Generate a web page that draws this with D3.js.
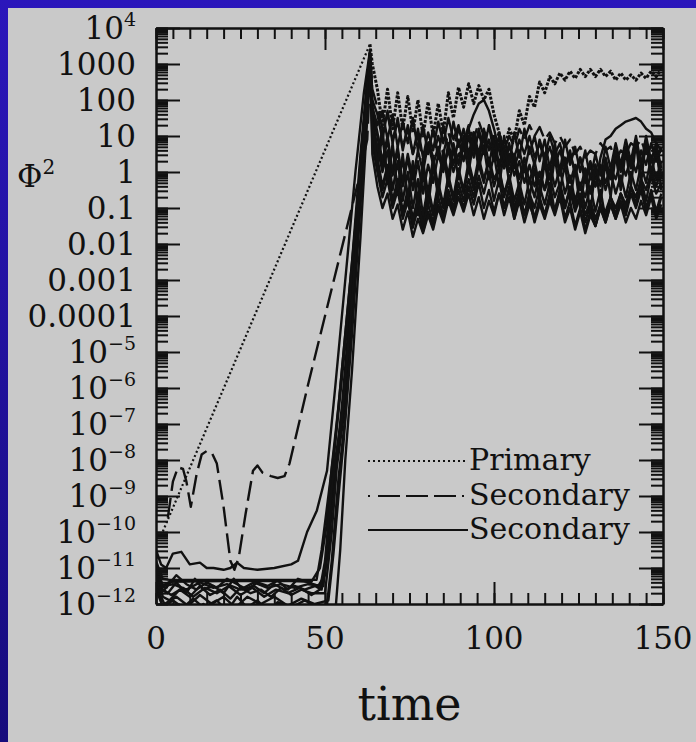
<!DOCTYPE html>
<html>
<head>
<meta charset="utf-8">
<title>Phi^2 vs time</title>
<script src="https://cdn.jsdelivr.net/npm/d3@7"></script>
<style>
  body { margin: 0; background: #1c1090; }
  svg { display: block; }
  .lbl { font-family: "DejaVu Serif", serif; fill: #111; }
  .axis path, .axis line { stroke: #111; stroke-width: 2; }
</style>
</head>
<body>
<script>
// plot window
var w = 696, h = 742;
var pLeft = 156, pRight = 663, pTop = 28, pBottom = 604;

// x axis ticks
var xMajor = [0, 50, 100, 150];
// y axis: decade exponents and their labels [base, superscript]
var yExp = [4, 3, 2, 1, 0, -1, -2, -3, -4, -5, -6, -7, -8, -9, -10, -11, -12];
var yLabels = [["10", "4"], ["1000", ""], ["100", ""], ["10", ""], ["1", ""], ["0.1", ""],
  ["0.01", ""], ["0.001", ""], ["0.0001", ""], ["10", "\u22125"], ["10", "\u22126"],
  ["10", "\u22127"], ["10", "\u22128"], ["10", "\u22129"], ["10", "\u221210"],
  ["10", "\u221211"], ["10", "\u221212"]];

// time grid after saturation
var tPost = [64, 65.5, 67, 68.5, 70, 71.5, 73, 74.5, 76, 77.5,
  79, 80.5, 82, 83.5, 85, 86.5, 88, 89.5, 91, 92.5,
  94, 95.5, 97, 98.5, 100, 101.5, 103, 104.5, 106, 107.5,
  109, 110.5, 112, 113.5, 115, 116.5, 118, 119.5, 121, 122.5,
  124, 125.5, 127, 128.5, 130, 131.5, 133, 134.5, 136, 137.5,
  139, 140.5, 142, 143.5, 145, 146.5, 148, 149.5];

// all values are log10(Phi^2)
// primary mode (dotted)
var primaryPre = [[1.5, -10.1], [63.3, 3.55]];
var primaryPost = [3.0, 2.3, 1.3, 2.3, 1.2, 2.2, 1.2, 2.1, 1.1, 2.0,
  1.0, 1.95, 1.0, 1.9, 1.1, 2.2, 1.5, 2.35, 1.8, 2.45,
  1.9, 2.4, 2.0, 2.3, 1.6, 1.1, 0.6, 1.2, 0.9, 1.7,
  1.3, 2.1, 1.8, 2.5, 2.2, 2.65, 2.45, 2.75, 2.55, 2.8,
  2.6, 2.85, 2.65, 2.85, 2.65, 2.85, 2.65, 2.8, 2.55, 2.75,
  2.55, 2.7, 2.55, 2.75, 2.6, 2.8, 2.65, 2.85];

// secondary mode (dashed)
var dashedPre = [[3.5, -9.6], [5, -8.6], [6.5, -8.2], [8, -8.25], [9, -8.6], [10.3, -9.3],
  [12, -8.4], [13.5, -7.85], [15, -7.75], [16.5, -7.8], [18, -8.1], [20, -9.3],
  [22, -10.8], [23.2, -11.05], [24.5, -10.7], [26.5, -9.5], [28.7, -8.3], [30, -8.15],
  [31.5, -8.35], [34, -8.45], [36, -8.5], [38, -8.45], [39.5, -8.1], [45, -5.9],
  [50, -4.0], [55, -2.1], [60, -0.2], [62.5, 0.9], [63.5, 3.0]];
var dashedPost = [2.3, 1.8, 1.2, 1.6, 0.9, 1.4, 0.7, 1.2, 0.5, 1.0,
  0.3, 0.9, 0.4, 1.0, 0.5, 1.1, 0.6, 1.2, 0.8, 1.3,
  0.9, 1.4, 1.0, 1.3, 0.8, 1.1, 0.6, 1.0, 0.7, 1.2,
  0.9, 1.3, 1.0, 1.25, 0.9, 1.1, 0.8, 1.0, 0.7, 0.9,
  0.5, 0.7, 0.4, 0.6, 0.5, 0.8, 0.6, 0.7, 0.3, 0.6,
  0.5, 0.8, 0.7, 0.9, 0.5, 0.8, 0.4, 0.6];

// secondary modes (solid)
var sec1Pre = [[0, -10.5], [1.5, -10.9], [3, -11.0], [5, -10.6], [7.5, -10.55], [10, -10.9],
  [13, -10.85], [15, -11.0], [17, -11.0], [20, -11.05], [22, -11.0], [24, -10.85],
  [26, -11.0], [30, -11.05], [35, -11.0], [40, -10.9], [42, -10.8], [44.7, -10.0],
  [47.6, -9.4], [50.6, -8.3], [53, -6.0], [56, -3.0], [59, 0.0], [61.5, 2.2], [63.2, 3.3]];
var sec1Post = [2.0, 1.6, 0.9, 1.7, 0.8, 1.5, 0.6, 1.3, 0.5, 1.2,
  0.4, 1.1, 0.6, 1.4, 0.8, 1.5, 0.9, 1.3, 0.7, 1.2,
  0.6, 1.1, 0.5, 0.9, 0.3, 0.8, 0.2, 0.7, 0.4, 0.9,
  0.5, 1.0, 0.4, 0.8, 0.3, 0.7, 0.2, 0.6, 0.1, 0.5,
  0.0, 0.4, -0.1, 0.3, -0.2, 0.2, -0.3, 0.1, -0.2, 0.3,
  -0.1, 0.4, 0.0, 0.6, 0.2, 0.8, 0.3, 0.7];

var sec2Pre = [[0, -10.8], [2, -11.3], [4, -11.33], [47.5, -11.33], [49, -10.5], [51, -9.0],
  [53, -7.5], [55.5, -5.0], [58, -2.5], [60.5, 0.5], [63.3, 3.4]];
var sec2Post = [1.6, 1.0, 0.2, 0.9, -0.1, 0.6, -0.4, 0.4, -0.5, 0.3,
  -0.6, 0.2, -0.3, 0.5, 0.0, 0.8, 0.2, 0.9, 0.3, 1.0,
  0.4, 1.2, 0.6, 1.3, 0.5, 1.0, 0.3, 0.8, 0.1, 0.6,
  0.0, 0.7, 0.2, 0.9, 0.4, 1.0, 0.5, 0.8, 0.2, 0.6,
  -0.1, 0.4, -0.3, 0.2, -0.4, 0.1, -0.5, 0.0, -0.6, -0.1,
  -0.7, 0.0, -0.5, 0.2, -0.3, 0.4, -0.2, 0.3];

var sec3Pre = [[0, -11.0], [2, -11.5], [4, -11.38], [20, -11.36], [40, -11.36], [46, -11.38],
  [48.5, -11.0], [50.5, -9.8], [52, -8.2], [54, -6.5], [57, -3.5], [60, -0.5], [63.4, 3.2]];
var sec3Post = [1.2, 0.4, -0.4, 0.2, -0.8, -0.2, -1.1, -0.5, -1.3, -0.7,
  -1.4, -0.6, -1.2, -0.4, -1.0, -0.2, -0.8, 0.0, -0.6, 0.1,
  -0.5, 0.2, -0.3, 0.4, -0.2, 0.1, -0.6, -0.1, -0.8, -0.3,
  -0.9, -0.2, -0.7, 0.0, -0.5, 0.2, -0.4, 0.1, -0.6, -0.1,
  -0.8, -0.3, -1.0, -0.4, -1.1, -0.5, -1.3, -0.7, -1.2, -0.6,
  -1.1, -0.4, -0.9, -0.2, -0.8, -0.1, -0.6, -0.3];

var sec4Pre = [[0, -11.2], [1.5, -11.6], [3.5, -11.7], [6, -11.4], [9, -11.7], [11.5, -11.3],
  [14, -11.6], [17, -11.5], [20, -11.7], [23, -11.3], [25.5, -11.6], [29, -11.5],
  [32, -11.7], [35, -11.45], [38, -11.6], [41, -11.5], [44, -11.6], [47, -11.5],
  [49, -11.6], [51, -10.5], [53, -8.3], [55, -6.5], [58, -3.2], [61, 0.6], [63.3, 3.2]];
var sec4Post = [0.8, 0.0, -0.7, -0.2, -1.0, -0.5, -1.3, -0.8, -1.55, -1.0,
  -1.65, -1.1, -1.5, -0.9, -1.3, -0.7, -1.1, -0.5, -1.0, -0.4,
  -0.9, -0.3, -1.0, -0.5, -1.1, -0.6, -1.2, -0.7, -1.3, -0.8,
  -1.4, -0.9, -1.3, -0.8, -1.2, -0.7, -1.1, -0.6, -1.0, -0.5,
  -1.1, -0.7, -1.4, -0.9, -1.5, -1.0, -1.4, -0.9, -1.3, -0.8,
  -1.2, -0.6, -1.0, -0.5, -1.1, -0.6, -1.2, -0.7];

var sec5Pre = [[0, -11.0], [2, -11.8], [4, -11.9], [7, -11.6], [10, -11.8], [13, -11.5],
  [16, -11.75], [19, -11.6], [22, -11.85], [25, -11.55], [28, -11.7], [31, -11.6],
  [34, -11.8], [37, -11.55], [40, -11.75], [43, -11.6], [46, -11.7], [50, -11.7],
  [52, -10.0], [53.5, -8.2], [55.5, -6.8], [58.5, -3.0], [61, 0.4], [63.4, 3.1]];
var sec5Post = [1.5, 0.5, 1.2, -0.3, 0.8, -0.6, 0.5, -0.9, 0.3, -1.2,
  0.0, -1.0, 0.2, -0.7, 0.5, -0.4, 0.7, -0.2, 0.8, 0.0,
  0.9, 0.1, 0.7, -0.2, 0.5, -0.4, 0.6, -0.3, 0.4, -0.5,
  0.2, -0.7, 0.1, -0.8, 0.3, -0.6, 0.4, -0.5, 0.2, -0.8,
  0.1, -1.0, 0.0, -1.2, 0.2, -0.9, 0.3, -0.7, 0.5, -0.5,
  0.6, -0.4, 0.8, -0.3, 0.9, -0.2, 0.7, -0.5];

var sec6Pre = [[0, -11.4], [2, -12.1], [5, -11.9], [8, -12.1], [11, -11.85], [14, -12.1],
  [18, -11.9], [21, -12.2], [24, -11.8], [27, -12.1], [30, -11.9], [33, -12.2],
  [36, -11.95], [40, -12.1], [44, -11.9], [48, -12.1], [50.5, -12.1], [52, -10.8],
  [54, -8.5], [56, -6.8], [59, -2.8], [61.5, 0.8], [63.5, 3.0]];
var sec6Post = [1.8, 1.1, 0.3, 1.0, 0.0, 0.7, -0.3, 0.5, -0.2, 0.6,
  0.0, 0.8, 0.2, 0.7, 0.1, 0.6, 0.0, 0.5, 0.6, 1.2,
  1.6, 1.9, 2.0, 1.7, 1.2, 0.6, 0.1, 0.5, -0.1, 0.3,
  -0.3, 0.2, -0.4, 0.0, -0.5, -0.1, -0.7, -0.3, -0.9, -0.5,
  -1.0, -0.6, -1.2, -0.8, -1.3, -0.9, -1.1, -0.7, -1.0, -0.6,
  -0.9, -0.4, -0.7, -0.2, -0.5, 0.0, -0.4, 0.1];

var sec7Pre = [[0, -11.6], [3, -12.3], [6, -12.0], [10, -12.3], [14, -12.0], [18, -12.3],
  [22, -12.05], [26, -12.3], [30, -12.0], [34, -12.3], [38, -12.05], [42, -12.3],
  [46, -12.0], [50, -12.2], [53, -12.3], [54.5, -10.5], [56, -8.0], [58, -5.5],
  [60.5, -1.8], [62.5, 1.5], [63.6, 3.0]];
var sec7Post = [1.4, 0.7, 0.0, 0.6, -0.5, 0.3, -0.8, 0.0, -1.0, -0.2,
  -1.2, -0.4, -1.1, -0.3, -0.9, -0.1, -0.7, 0.1, -0.5, 0.3,
  -0.3, 0.4, -0.2, 0.3, -0.4, 0.1, -0.7, -0.2, -1.0, -0.5,
  -1.2, -0.6, -1.3, -0.7, -1.2, -0.6, -1.1, -0.5, -1.0, -0.4,
  -0.9, -0.3, -0.7, -0.1, -0.4, 0.4, 0.9, 1.0, 1.2, 1.3,
  1.4, 1.45, 1.5, 1.4, 1.2, 1.1, 0.8, 0.6];

var sec8Pre = [[0, -11.3], [1.5, -11.7], [3, -11.55], [6, -11.2], [9, -11.45], [12, -11.6],
  [15, -11.4], [18, -11.55], [21, -11.3], [24, -11.45], [27, -11.6], [30, -11.4],
  [33, -11.5], [36, -11.35], [39, -11.6], [42, -11.3], [45, -11.4], [48, -11.5],
  [50, -11.2], [51.5, -9.6], [53, -8.1], [55, -7.0], [57.5, -4.0], [60.5, 0.2], [63.3, 3.3]];
var sec8Post = [1.0, 0.2, -0.5, 0.1, -0.9, -0.3, -1.2, -0.6, -1.4, -0.8,
  -1.5, -0.9, -1.4, -0.7, -1.2, -0.5, -1.0, -0.3, -0.8, -0.2,
  -0.7, -0.1, -0.6, 0.0, -0.8, -0.2, -1.0, -0.4, -1.3, -0.7,
  -1.2, -0.6, -1.0, -0.4, -0.9, -0.3, -1.1, -0.5, -1.3, -0.8,
  -1.5, -1.0, -1.6, -1.1, -1.5, -0.9, -1.3, -0.7, -1.2, -0.6,
  -1.0, -0.4, -0.9, -0.3, -1.0, -0.5, -1.1, -0.6];

var sec9Pre = [[0, -10.9], [2, -11.5], [5, -11.45], [9, -11.6], [13, -11.4], [17, -11.55],
  [21, -11.45], [25, -11.6], [29, -11.4], [33, -11.55], [37, -11.45], [41, -11.55],
  [45, -11.45], [49.5, -11.5], [51, -10.2], [52.5, -8.0], [54.5, -6.2], [57.5, -3.4],
  [60.5, 0.3], [63.3, 3.3]];
var sec9Post = [1.8, 1.3, 1.7, 0.9, 1.6, 0.7, 1.4, 0.8, 1.5, 0.6,
  1.3, 0.5, 1.2, 0.4, 1.3, 0.6, 1.4, 0.7, 1.2, 0.5,
  1.1, 0.3, 1.0, 0.2, 0.9, 0.0, 1.0, 0.2, 1.1, 0.4,
  1.2, 0.5, 1.0, 0.3, 0.9, 0.1, 0.8, 0.0, 0.9, 0.2,
  0.7, 0.0, 0.6, -0.2, 0.5, -0.1, 0.7, 0.1, 0.8, 0.2,
  0.9, 0.3, 1.0, 0.2, 0.8, 0.0, 0.6, -0.2];

var sec10Pre = [[0, -11.5], [2.5, -12.0], [6, -11.8], [9.5, -12.05], [13, -11.75], [16.5, -12.0],
  [20, -11.8], [23.5, -12.1], [27, -11.8], [31, -12.0], [35, -11.8], [39, -12.05],
  [43, -11.85], [47, -12.0], [51, -11.9], [52.5, -10.6], [54, -9.0], [55.5, -7.5],
  [58, -4.5], [61, -0.2], [63.5, 3.1]];
var sec10Post = [0.5, -0.4, -1.0, -0.6, -1.3, -0.9, -1.6, -1.1, -1.8, -1.3,
  -1.7, -1.2, -1.6, -1.0, -1.4, -0.8, -1.2, -0.7, -1.1, -0.6,
  -1.2, -0.7, -1.3, -0.8, -1.2, -0.6, -1.0, -0.5, -1.1, -0.6,
  -1.2, -0.8, -1.4, -0.9, -1.3, -0.8, -1.2, -0.7, -1.4, -1.0,
  -1.6, -1.1, -1.7, -1.2, -1.5, -1.0, -1.4, -0.9, -1.3, -0.9,
  -1.4, -1.0, -1.3, -0.8, -1.2, -0.7, -1.3, -0.9];

var sec11Pre = [[0, -11.1], [2, -11.6], [4.5, -11.75], [8, -11.55], [11, -11.8], [14.5, -11.55],
  [18, -11.7], [21.5, -11.5], [25, -11.75], [28.5, -11.55], [32, -11.8], [35.5, -11.6],
  [39, -11.7], [42.5, -11.55], [46, -11.75], [48.5, -11.6], [50, -10.8], [51.5, -9.2],
  [53, -8.0], [55, -6.8], [58, -3.6], [61, 0.4], [63.4, 3.2]];
var sec11Post = [1.3, 0.2, 1.0, -0.2, 0.7, -0.5, 0.4, -0.7, 0.2, -0.8,
  0.3, -0.6, 0.4, -0.4, 0.6, -0.1, 0.8, 0.2, 1.0, 0.3,
  1.1, 0.5, 1.2, 0.6, 1.0, 0.2, 0.7, 0.0, 0.5, -0.2,
  0.4, -0.3, 0.3, -0.4, 0.5, -0.2, 0.6, -0.1, 0.4, -0.3,
  0.2, -0.5, 0.1, -0.6, 0.2, -0.4, 0.4, -0.2, 0.6, 0.0,
  0.7, 0.1, 0.9, 0.2, 1.0, 0.3, 0.8, 0.1];

var solidCurves = [[sec1Pre, sec1Post], [sec2Pre, sec2Post], [sec3Pre, sec3Post], [sec4Pre, sec4Post],
  [sec5Pre, sec5Post], [sec6Pre, sec6Post], [sec7Pre, sec7Post], [sec8Pre, sec8Post],
  [sec9Pre, sec9Post], [sec10Pre, sec10Post], [sec11Pre, sec11Post]];

var legendNames = ["Primary", "Secondary", "Secondary"];

// join the growth phase with the saturated phase
function build(pre, post) {
  var pts = pre.slice();
  for (var i = 0; i < tPost.length && i < post.length; i++) pts.push([tPost[i], post[i]]);
  return pts;
}

var x = d3.scaleLinear().domain([0, 150]).range([pLeft, pRight]);
var y = d3.scaleLog().domain([1e-12, 1e4]).range([pBottom, pTop]);

var line = d3.line()
  .x(function(d) { return x(d[0]); })
  .y(function(d) { return y(Math.pow(10, d[1])); });

var svg = d3.select("body").append("svg")
  .attr("width", w)
  .attr("height", h);

var defs = svg.append("defs");
var grad = defs.append("linearGradient")
  .attr("id", "bg").attr("x1", 0).attr("y1", 0).attr("x2", 0).attr("y2", 1);
grad.append("stop").attr("offset", "0%").attr("stop-color", "#2b16bb");
grad.append("stop").attr("offset", "100%").attr("stop-color", "#160b7c");
defs.append("clipPath").attr("id", "plotclip")
  .append("rect").attr("x", pLeft).attr("y", pTop).attr("width", pRight - pLeft).attr("height", pBottom - pTop);

svg.append("rect").attr("width", w).attr("height", h).attr("fill", "url(#bg)");
svg.append("rect").attr("x", 8).attr("y", 8).attr("width", w - 8).attr("height", h - 8).attr("fill", "#c9c9c9");

// curves
var curves = svg.append("g").attr("clip-path", "url(#plotclip)")
  .attr("fill", "none").attr("stroke", "#111").attr("stroke-linejoin", "round");

solidCurves.forEach(function(c) {
  curves.append("path").attr("d", line(build(c[0], c[1])))
    .attr("stroke-width", 2.4);
});
curves.append("path").attr("d", line(build(dashedPre, dashedPost)))
  .attr("stroke-width", 2.4).attr("stroke-dasharray", "20,7");
// primary: thin dots while growing, heavier once saturated
curves.append("path").attr("d", line(primaryPre))
  .attr("stroke-width", 2.2).attr("stroke-dasharray", "2,2.5");
curves.append("path").attr("d", line(build([primaryPre[1]], primaryPost)))
  .attr("stroke-width", 3).attr("stroke-dasharray", "3,1.5");

// axes with inward ticks
var minorY = y.ticks(20);
var majorY = yExp.map(function(e) { return Math.pow(10, e); });
function addAxis(axisFn, scale, values, size, tr) {
  svg.append("g").attr("class", "axis").attr("transform", tr)
    .call(axisFn(scale).tickValues(values).tickSizeInner(-size).tickSizeOuter(0).tickFormat(""));
}
addAxis(d3.axisBottom, x, x.ticks(30), 11, "translate(0," + pBottom + ")");
addAxis(d3.axisBottom, x, xMajor, 22, "translate(0," + pBottom + ")");
addAxis(d3.axisTop, x, x.ticks(30), 11, "translate(0," + pTop + ")");
addAxis(d3.axisTop, x, xMajor, 22, "translate(0," + pTop + ")");
addAxis(d3.axisLeft, y, minorY, 12, "translate(" + pLeft + ",0)");
addAxis(d3.axisLeft, y, majorY, 24, "translate(" + pLeft + ",0)");
addAxis(d3.axisRight, y, minorY, 12, "translate(" + pRight + ",0)");
addAxis(d3.axisRight, y, majorY, 24, "translate(" + pRight + ",0)");
svg.selectAll(".axis .domain").attr("stroke-width", 2.5);

// y tick labels
yExp.forEach(function(e, i) {
  var t = svg.append("text").attr("class", "lbl")
    .attr("x", 136).attr("y", y(Math.pow(10, e)) + 11)
    .attr("text-anchor", "end").attr("font-size", 31);
  t.append("tspan").text(yLabels[i][0]);
  if (yLabels[i][1]) {
    t.append("tspan").attr("font-size", 19).attr("dy", -13).text(yLabels[i][1]);
  }
});

// x tick labels
svg.selectAll(".xlbl").data(xMajor).enter().append("text")
  .attr("class", "lbl")
  .attr("x", function(d) { return x(d); })
  .attr("y", 649)
  .attr("text-anchor", "middle").attr("font-size", 31)
  .text(function(d) { return d; });

// axis titles
svg.append("text").attr("class", "lbl").attr("x", x(75)).attr("y", 720)
  .attr("text-anchor", "middle").attr("font-size", 46).text("time");
var phi = svg.append("text").attr("class", "lbl").attr("x", 17).attr("y", 187).attr("font-size", 31);
phi.append("tspan").text("\u03A6");
phi.append("tspan").attr("font-size", 20).attr("dy", -13).text("2");

// legend
var legY = [461, 496, 530];
var legDash = ["2,3", "2,8,22,6,22,6,22,6", null];
legendNames.forEach(function(name, i) {
  var l = svg.append("line").attr("x1", 368).attr("x2", 468)
    .attr("y1", legY[i]).attr("y2", legY[i])
    .attr("stroke", "#111").attr("stroke-width", 2);
  if (legDash[i]) l.attr("stroke-dasharray", legDash[i]);
  svg.append("text").attr("class", "lbl").attr("x", 469).attr("y", legY[i] + 9)
    .attr("font-size", 30).text(name);
});
</script>
</body>
</html>
